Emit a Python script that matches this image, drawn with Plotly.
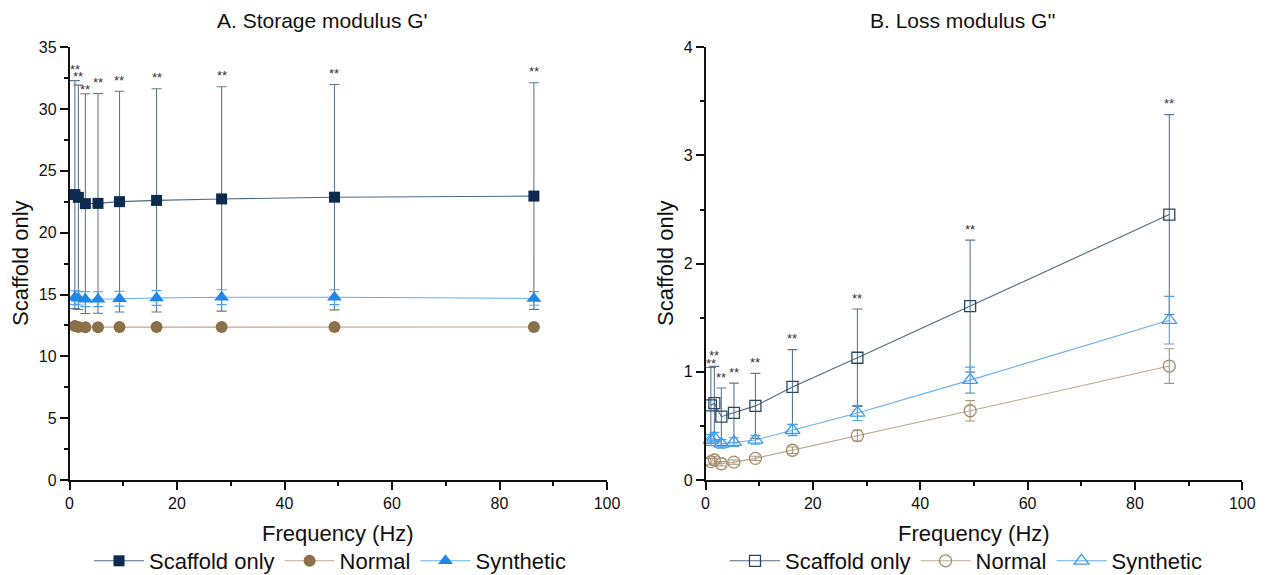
import plotly.graph_objects as go

# ---------------- data ----------------
freq_hz = [1.0, 1.65, 2.95, 5.3, 9.3, 16.2, 28.3, 49.3, 86.4]

# Storage modulus G' (mean, error)
g1_scaffold = [23.08, 22.86, 22.35, 22.37, 22.51, 22.61, 22.73, 22.87, 22.96]
g1_scaffold_err = [9.22, 9.07, 8.88, 8.89, 8.93, 9.03, 9.07, 9.11, 9.16]
g1_normal = [12.45, 12.38, 12.36, 12.36, 12.37, 12.38, 12.38, 12.38, 12.37]
g1_normal_err = [0.15, 0.15, 0.15, 0.15, 0.15, 0.15, 0.15, 0.15, 0.15]
g1_synthetic = [14.75, 14.7, 14.62, 14.62, 14.66, 14.72, 14.78, 14.78, 14.68]
g1_synthetic_err = [0.55, 0.55, 0.6, 0.6, 0.6, 0.6, 0.6, 0.6, 0.55]

# Loss modulus G'' (mean, error)
g2_scaffold = [0.69, 0.71, 0.585, 0.62, 0.685, 0.86, 1.13, 1.607, 2.453]
g2_scaffold_err = [0.35, 0.34, 0.265, 0.275, 0.30, 0.345, 0.45, 0.61, 0.924]
g2_normal = [0.17, 0.185, 0.15, 0.165, 0.2, 0.275, 0.41, 0.64, 1.053]
g2_normal_err = [0.03, 0.03, 0.02, 0.02, 0.02, 0.03, 0.05, 0.095, 0.16]
g2_synthetic = [0.37, 0.39, 0.335, 0.35, 0.37, 0.46, 0.62, 0.923, 1.477]
g2_synthetic_err = [0.05, 0.05, 0.04, 0.04, 0.04, 0.05, 0.07, 0.12, 0.22]

series_names = ["Scaffold only", "Normal", "Synthetic"]
signif_label = "**"
panel_titles = ["A. Storage modulus G'", "B. Loss modulus G''"]
x_title = "Frequency (Hz)"
y_title = "Scaffold only"

# ---------------- styling ----------------
W, H = 1271, 575
FONT = "Liberation Sans, Arial, sans-serif"

navy = "#0d2b4e"
navy_line = "#4f6a86"
navy_err = "#5f7791"
brown = "#8c7049"
brown_line = "#bba98f"
brown_err = "#a8957b"
blue = "#1f88e6"
blue_line = "#62aef2"
blue_err = "#4aa0ef"

# plot-area pixel boxes
L_X0, L_X1 = 69.5, 607.0
R_X0, R_X1 = 705.5, 1242.3
Y_TOP, Y_BOT = 47.2, 480.0

# vertical lift of the significance marks above each upper error cap (px)
lift_g1 = [11, 9, 4, 11, 11, 11, 11, 11, 11]
lift_g2 = [4, 11, 11, 11, 11, 11, 11, 11, 11]

fig = go.Figure()


def add_series(name, y, err, xa, ya, legend, symbol, mcolor, lcolor, ecolor,
               size, hollow=False):
    marker = dict(symbol=symbol, size=size, color=mcolor,
                  line=dict(width=0, color=mcolor))
    if hollow:
        marker = dict(symbol=symbol + "-open", size=size, color=mcolor,
                      line=dict(width=1.3, color=mcolor))
    fig.add_trace(go.Scatter(
        x=freq_hz, y=y, name=name, mode="lines+markers",
        xaxis=xa, yaxis=ya, legend=legend,
        line=dict(color=lcolor, width=1.1),
        marker=marker,
        error_y=dict(type="data", array=err, visible=True,
                     color=ecolor, thickness=1.1, width=5),
        cliponaxis=False,
    ))


# Panel A: filled markers
add_series(series_names[0], g1_scaffold, g1_scaffold_err, "x", "y", "legend",
           "square", navy, navy_line, navy_err, 11)
add_series(series_names[1], g1_normal, g1_normal_err, "x", "y", "legend",
           "circle", brown, brown_line, brown_err, 12)
add_series(series_names[2], g1_synthetic, g1_synthetic_err, "x", "y", "legend",
           "triangle-up", blue, blue_line, blue_err, 13)

# Panel B: open markers
add_series(series_names[0], g2_scaffold, g2_scaffold_err, "x2", "y2", "legend2",
           "square", "#2a4866", navy_line, navy_err, 11, hollow=True)
add_series(series_names[1], g2_normal, g2_normal_err, "x2", "y2", "legend2",
           "circle", "#a38b6a", brown_line, brown_err, 12, hollow=True)
add_series(series_names[2], g2_synthetic, g2_synthetic_err, "x2", "y2", "legend2",
           "triangle-up", "#3d9bed", blue_line, blue_err, 13, hollow=True)

annotations = []

# significance marks above the Scaffold-only error bars
for xs, ys, es, lifts, xr, yr in [
    (freq_hz, g1_scaffold, g1_scaffold_err, lift_g1, "x", "y"),
    (freq_hz, g2_scaffold, g2_scaffold_err, lift_g2, "x2", "y2"),
]:
    for f, m, e, lift in zip(xs, ys, es, lifts):
        annotations.append(dict(
            x=f, y=m + e, xref=xr, yref=yr, text=signif_label,
            showarrow=False, yshift=lift, xanchor="center", yanchor="middle",
            font=dict(family=FONT, size=13, color="#333333"),
        ))


def px_x(p):
    return p / W


def px_y(p):
    return 1 - p / H


def paper_text(x, y, text, size, angle=0):
    return dict(x=px_x(x), y=px_y(y), xref="paper", yref="paper",
                xanchor="center", yanchor="middle", text=text,
                showarrow=False, textangle=angle,
                font=dict(family=FONT, size=size, color="#111111"))


# panel titles
annotations.append(paper_text(322.5, 21, panel_titles[0], 21))
annotations.append(paper_text(962, 21, panel_titles[1], 21))

# axis titles
for cx in [(L_X0 + L_X1) / 2, (R_X0 + R_X1) / 2]:
    annotations.append(paper_text(cx, 533, x_title, 22))
for cx in [20, 665]:
    annotations.append(paper_text(cx, 263, y_title, 22, angle=-90))

axis_common = dict(
    showline=True, linecolor="#111111", linewidth=1.5,
    ticks="outside", ticklen=8, tickwidth=1.5, tickcolor="#111111",
    showgrid=False, zeroline=False, mirror=False, automargin=False,
    tickfont=dict(family=FONT, size=16, color="#111111"),
)
minor_common = dict(ticks="outside", ticklen=4, tickwidth=1.5,
                    tickcolor="#111111")

fig.update_layout(
    width=W, height=H,
    margin=dict(l=0, r=0, t=0, b=0, autoexpand=False),
    paper_bgcolor="white", plot_bgcolor="white",
    font=dict(family=FONT, color="#111111"),
    showlegend=True,
    xaxis=dict(domain=[px_x(L_X0), px_x(L_X1)], range=[0, 100], dtick=20,
               minor=dict(dtick=10, **minor_common),
               anchor="y", **axis_common),
    yaxis=dict(domain=[px_y(Y_BOT), px_y(Y_TOP)], range=[0, 35], dtick=5,
               minor=dict(dtick=2.5, **minor_common),
               anchor="x", **axis_common),
    xaxis2=dict(domain=[px_x(R_X0), px_x(R_X1)], range=[0, 100], dtick=20,
                minor=dict(dtick=10, **minor_common),
                anchor="y2", **axis_common),
    yaxis2=dict(domain=[px_y(Y_BOT), px_y(Y_TOP)], range=[0, 4], dtick=1,
                minor=dict(dtick=0.5, **minor_common),
                anchor="x2", **axis_common),
    legend=dict(orientation="h", x=px_x(330), xanchor="center",
                y=px_y(561), yanchor="middle", itemwidth=50,
                bgcolor="rgba(0,0,0,0)",
                font=dict(family=FONT, size=22, color="#111111")),
    legend2=dict(orientation="h", x=px_x(966), xanchor="center",
                 y=px_y(561), yanchor="middle", itemwidth=50,
                 bgcolor="rgba(0,0,0,0)",
                 font=dict(family=FONT, size=22, color="#111111")),
    annotations=annotations,
)

fig.write_html("out.html")
